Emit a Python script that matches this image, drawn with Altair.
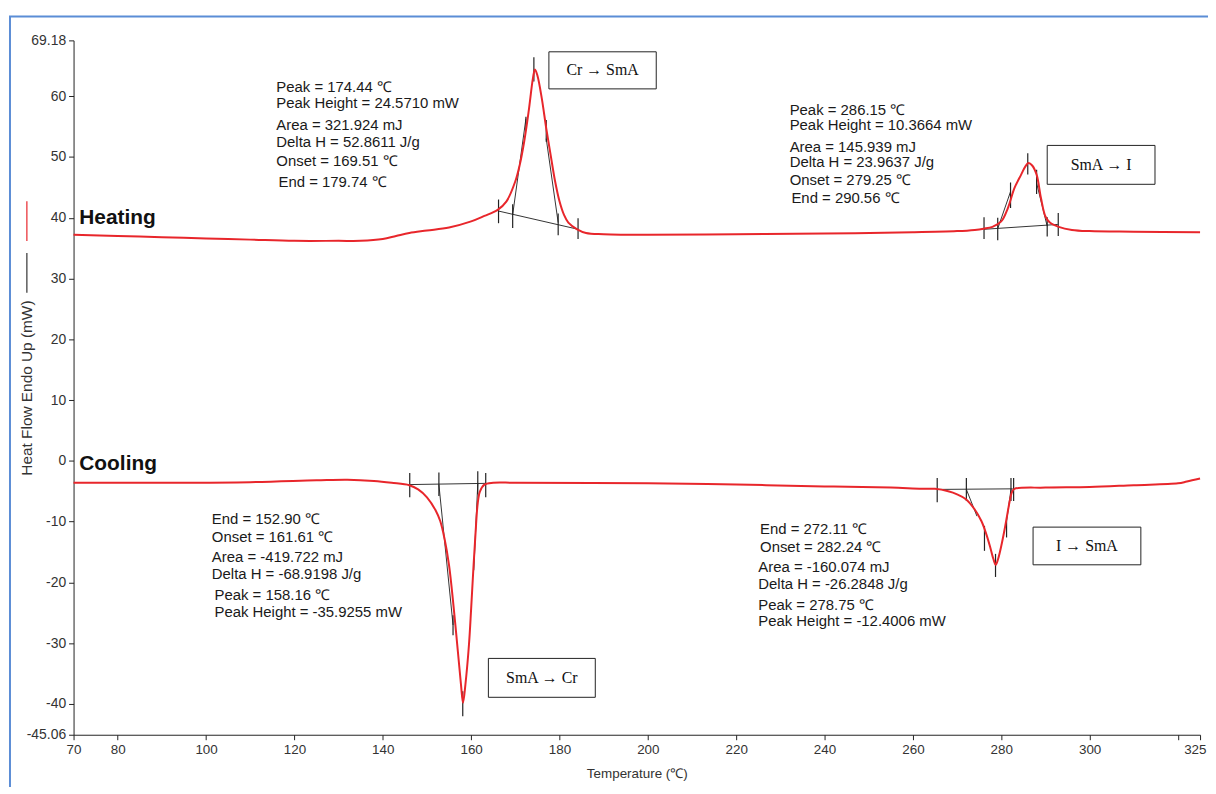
import altair as alt
import pandas as pd

# ---------------- data ----------------
heat_T = [70, 80, 90, 100, 110, 120, 130, 135, 140, 143, 146, 150, 155, 160, 163, 166, 168, 170, 171, 172, 173, 174, 174.44,
          175, 176, 177, 178, 179, 180, 181, 182, 184, 186, 190, 200, 220, 240, 260, 270, 274, 276, 278, 280, 281.5,
          283, 284.5, 285.5, 286.15, 287, 288, 289, 290, 291, 293, 296, 300, 310, 325]
heat_Q = [37.2, 37.0, 36.8, 36.6, 36.4, 36.2, 36.2, 36.2, 36.5, 37.0, 37.5, 37.9, 38.4, 39.4, 40.3, 41.3, 42.7, 46.0, 48.7, 52.5, 57.4, 63.0, 64.4,
          63.4, 59.6, 54.7, 50.3, 46.0, 42.7, 40.5, 39.2, 38.1, 37.5, 37.3, 37.2, 37.3, 37.4, 37.6, 37.8, 38.0, 38.2, 38.5, 39.4, 41.6,
          44.9, 47.1, 48.5, 49.0, 48.6, 47.1, 43.2, 40.2, 39.2, 38.5, 38.0, 37.8, 37.7, 37.6]

cool_T = [70, 90, 110, 125, 132, 138, 142, 146, 148, 150, 152, 153, 154, 155, 156, 157, 157.7, 158.16, 158.7, 159.5, 160,
          160.5, 161, 161.5, 162, 163, 165, 170, 200, 220, 240, 255, 262, 265, 268, 270, 272, 274, 275.5, 276.5, 277.5,
          278.2, 278.75, 279.3, 280, 280.7, 281.3, 282, 282.5, 283, 290, 300, 310, 320, 322, 325]
cool_Q = [-3.6, -3.6, -3.5, -3.2, -3.1, -3.3, -3.6, -4.0, -4.7, -6.0, -8.2, -9.9, -12.9, -17.2, -23.8, -31.4, -36.8, -39.8, -36.8, -30.3, -24.3,
          -17.8, -11.8, -6.9, -5.0, -3.9, -3.6, -3.6, -3.7, -3.9, -4.2, -4.4, -4.6, -4.6, -5.0, -5.5, -6.3, -8.0, -9.9, -11.8, -14.2,
          -16.1, -17.1, -16.1, -14.0, -11.5, -9.1, -6.3, -5.0, -4.6, -4.4, -4.3, -4.0, -3.7, -3.4, -2.9]

# construction lines (baselines and tangents)
seg_x1 = [166.2, 169.4, 179.7, 276.1, 279.2, 290.4, 146.1, 152.7, 161.5, 265.5, 272.1, 282.2]
seg_y1 = [41.1, 40.5, 39.2, 38.1, 38.2, 38.6, -3.9, -3.9, -3.8, -4.7, -4.7, -4.7]
seg_x2 = [184.2, 172.4, 177.0, 292.8, 282.1, 288.0, 163.4, 155.9, 160.6, 282.6, 274.5, 281.2]
seg_y2 = [38.1, 56.3, 53.0, 38.9, 44.3, 45.7, -3.7, -27.0, -18.0, -4.6, -9.1, -10.0]

# short vertical marker ticks
tick_x = [166.2, 169.4, 179.7, 184.2, 174.2, 172.4, 177.0,
          276.1, 279.2, 290.4, 292.9, 286.0, 282.1, 288.0,
          146.1, 152.7, 161.5, 163.3, 158.1, 155.9,
          265.5, 272.1, 282.2, 282.8, 278.7, 276.2, 281.2]
tick_y1 = [39.1, 38.3, 37.1, 36.5, 62.4, 54.4, 52.5,
           36.5, 36.3, 36.9, 37.0, 47.1, 41.6, 43.9,
           -2.0, -1.9, -1.7, -2.0, -37.9, -25.4,
           -2.8, -2.8, -2.8, -2.8, -15.3, -10.7, -9.9]
tick_y2 = [43.0, 42.2, 40.7, 39.9, 66.4, 56.6, 56.1,
           40.1, 40.0, 40.1, 40.8, 50.6, 45.8, 47.9,
           -6.0, -5.8, -5.5, -6.0, -42.0, -28.7,
           -6.8, -6.6, -6.6, -6.6, -19.1, -14.8, -12.6]

# annotation texts
note_text = ["Peak = 174.44 ℃", "Peak Height = 24.5710 mW", "Area = 321.924 mJ", "Delta H = 52.8611 J/g",
             "Onset = 169.51 ℃", "End = 179.74 ℃",
             "Peak = 286.15 ℃", "Peak Height = 10.3664 mW", "Area = 145.939 mJ", "Delta H = 23.9637 J/g",
             "Onset = 279.25 ℃", "End = 290.56 ℃",
             "End = 152.90 ℃", "Onset = 161.61 ℃", "Area = -419.722 mJ", "Delta H = -68.9198 J/g",
             "Peak = 158.16 ℃", "Peak Height = -35.9255 mW",
             "End = 272.11 ℃", "Onset = 282.24 ℃", "Area = -160.074 mJ", "Delta H = -26.2848 J/g",
             "Peak = 278.75 ℃", "Peak Height = -12.4006 mW"]
note_x = [115.9, 115.9, 115.9, 115.9, 115.9, 116.4,
          232.1, 232.1, 232.1, 232.1, 232.1, 232.5,
          101.3, 101.3, 101.3, 101.3, 101.9, 101.9,
          225.4, 225.4, 225.0, 225.0, 225.0, 225.0]
note_y = [61.5, 58.8, 55.3, 52.5, 49.4, 45.9,
          57.7, 55.2, 51.7, 49.1, 46.2, 43.2,
          -9.6, -12.6, -15.8, -18.6, -22.1, -24.8,
          -11.2, -14.2, -17.5, -20.3, -23.8, -26.3]

# transition boxes
box_text = ["Cr  → SmA", "SmA  → I", "SmA  → Cr", "I → SmA"]
box_x1 = [177.6, 290.4, 163.9, 287.2]
box_x2 = [201.9, 314.8, 188.1, 311.6]
box_y1 = [67.3, 51.9, -32.5, -10.9]
box_y2 = [61.2, 45.5, -38.9, -17.1]

run_text = ["Heating", "Cooling"]
run_x = [71.3, 71.3]
run_y = [39.9, -0.6]

x_ticks = [70, 80, 100, 120, 140, 160, 180, 200, 220, 240, 260, 280, 300, 320, 325]
y_ticks = [69.18, 60, 50, 40, 30, 20, 10, 0, -10, -20, -30, -40, -45.06]

# ---------------- frames ----------------
curve = pd.concat([
    pd.DataFrame({"T": heat_T, "Q": heat_Q, "run": "Heating"}),
    pd.DataFrame({"T": cool_T, "Q": cool_Q, "run": "Cooling"}),
])
segs = pd.DataFrame({"x1": seg_x1, "y1": seg_y1, "x2": seg_x2, "y2": seg_y2})
ticks = pd.DataFrame({"x": tick_x, "y1": tick_y1, "y2": tick_y2})
notes = pd.DataFrame({"text": note_text, "x": note_x, "y": note_y})
boxes = pd.DataFrame({"text": box_text, "x1": box_x1, "x2": box_x2, "y1": box_y1, "y2": box_y2})
boxes["xc"] = (boxes.x1 + boxes.x2) / 2
boxes["yc"] = (boxes.y1 + boxes.y2) / 2
runs = pd.DataFrame({"text": run_text, "x": run_x, "y": run_y})

xs = alt.Scale(domain=[70, 325], nice=False, zero=False)
ys = alt.Scale(domain=[-45.06, 69.18], nice=False, zero=False)

FONT = "Liberation Sans"

xaxis = alt.Axis(values=x_ticks, labelExpr="datum.value == 320 ? '' : '' + datum.value",
                 title="Temperature (℃)", grid=False, tickSize=5, labelFontSize=13.5, labelFlush=False,
                 labelAlign={"expr": "datum.value == 325 ? 'right' : 'center'"},
                 labelOffset={"expr": "datum.value == 325 ? 6 : 0"},
                 labelFont=FONT, labelColor="#333333", titleFont=FONT, titleFontSize=13.5,
                 titleFontWeight="normal", titleColor="#333333", titleY=39, titleBaseline="middle",
                 domainColor="#222222", tickColor="#222222", labelPadding=3)
yaxis = alt.Axis(values=y_ticks, labelExpr="'' + datum.value", title="Heat Flow Endo Up (mW)",
                 grid=False, tickSize=5, labelFontSize=14, labelFont=FONT, labelColor="#333333",
                 titleFont=FONT, titleFontSize=15.5, titleFontWeight="normal", titleColor="#333333",
                 titleX=-47, titleY=349.5, titleAngle=-90, titleBaseline="middle", titleAlign="center",
                 domainColor="#222222", tickColor="#222222", labelPadding=3)

border = alt.Chart(pd.DataFrame({"a": [0]})).mark_rect(
    fill="white", fillOpacity=0, stroke="#5b8dd6", strokeWidth=2
).encode(x=alt.value(-64), x2=alt.value(1300), y=alt.value(-24), y2=alt.value(900))

lines = alt.Chart(curve).mark_line(color="#e8262b", strokeWidth=2, interpolate="catmull-rom").encode(
    x=alt.X("T:Q", scale=xs, axis=xaxis),
    y=alt.Y("Q:Q", scale=ys, axis=yaxis),
    detail="run:N",
)

seg_layer = alt.Chart(segs).mark_rule(color="#333333", strokeWidth=1).encode(
    x=alt.X("x1:Q", scale=xs), y=alt.Y("y1:Q", scale=ys), x2="x2:Q", y2="y2:Q")

tick_layer = alt.Chart(ticks).mark_rule(color="#222222", strokeWidth=1.2).encode(
    x=alt.X("x:Q", scale=xs), y=alt.Y("y1:Q", scale=ys), y2="y2:Q")

note_layer = alt.Chart(notes).mark_text(align="left", baseline="middle", font=FONT, fontSize=15,
                                        color="#1a1a1a").encode(
    x=alt.X("x:Q", scale=xs), y=alt.Y("y:Q", scale=ys), text="text:N")

box_layer = alt.Chart(boxes).mark_rect(fill="white", stroke="#222222", strokeWidth=1).encode(
    x=alt.X("x1:Q", scale=xs), x2="x2:Q", y=alt.Y("y1:Q", scale=ys), y2="y2:Q")

box_text_layer = alt.Chart(boxes).mark_text(align="center", baseline="middle", font="Liberation Serif",
                                            fontSize=16, color="#111111").encode(
    x=alt.X("xc:Q", scale=xs), y=alt.Y("yc:Q", scale=ys), text="text:N")

run_layer = alt.Chart(runs).mark_text(align="left", baseline="middle", font=FONT, fontSize=21,
                                      fontWeight="bold", color="#111111").encode(
    x=alt.X("x:Q", scale=xs), y=alt.Y("y:Q", scale=ys), text="text:N")

# little legend strokes beside the y-axis title
leg_red = alt.Chart(pd.DataFrame({"a": [0]})).mark_rule(color="#e8262b", strokeWidth=1.2).encode(
    x=alt.value(-47), y=alt.value(162), y2=alt.value(202))
leg_black = alt.Chart(pd.DataFrame({"a": [0]})).mark_rule(color="#333333", strokeWidth=1.2).encode(
    x=alt.value(-47), y=alt.value(214), y2=alt.value(254))

chart = alt.layer(
    border, seg_layer, tick_layer, lines, note_layer, box_layer, box_text_layer, run_layer, leg_red, leg_black
).properties(
    width=1134, height=699,
    autosize=alt.AutoSizeParams(type="none"),
    padding={"left": 66, "top": 30, "right": 8, "bottom": 50},
    background="white",
).configure_view(stroke=None)

chart.save("out.html", embed_options={"renderer": "svg", "actions": False})
